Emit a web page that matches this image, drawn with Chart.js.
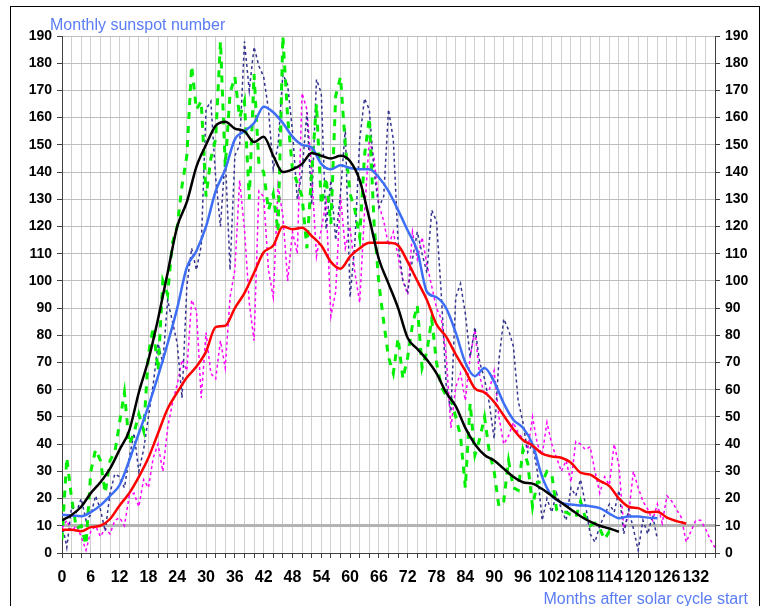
<!DOCTYPE html>
<html>
<head>
<meta charset="utf-8">
<script src="https://cdn.jsdelivr.net/npm/chart.js@4.4.1/dist/chart.umd.min.js"></script>
<style>
html, body { margin: 0; padding: 0; background: #fff; }
</style>
</head>
<body>
<canvas id="sunChart" width="770" height="606"></canvas>
<script>
// Smoothed curves, sampled every 2 months
const blackSmooth = [12, 14, 17, 22, 26, 31, 38, 45, 59, 71, 86, 103, 120, 129, 142, 150, 157, 158.5, 156, 155,
  151, 153, 146, 140, 141, 143, 147, 146, 145, 146, 144, 137, 123, 108, 99, 90, 79, 75, 71, 66,
  59, 54, 46, 40, 36, 34, 31, 28, 26, 25.5, 23.5, 21, 18.5, 16, 13.5, 11.5, 10, 9, 7.8];
const blueSmooth = [14, 13.8, 13.5, 15, 17.5, 21, 25, 34, 44, 54, 65, 77, 90, 105, 111, 120, 133, 141, 152, 155,
  158, 164, 162, 158, 153, 150, 149, 143, 141, 142.5, 141.5, 141, 141, 138, 133, 126, 118.5, 111, 96, 94,
  90, 81, 70, 65, 68, 63, 55, 49, 46, 40, 28, 21, 18.5, 17.8, 17.5, 17.2, 16.5, 14.5, 12.8, 13.4,
  13.4, 13, 12.8];
const redSmooth = [8.5, 8.5, 8, 9.5, 10, 12.5, 17.5, 22, 28, 35, 44, 53, 59, 64.5, 68.5, 74, 83, 83.5, 90, 95.5,
  103, 110.5, 113, 120, 119, 119.5, 116.5, 113, 107, 104.5, 109, 112, 114, 114, 114, 113, 107, 100, 93, 84,
  79.5, 73, 67, 60.5, 59, 55.5, 50.5, 45.5, 41.5, 39.5, 36.5, 35.5, 35, 33.2, 29.5, 28.8, 26.5, 24.6, 20, 17,
  16.5, 15, 15.2, 13, 11.7, 10.8];

// Monthly values, one per month from month 0
const greenMonthly = [5, 35, 20, 9, 10, 3, 30, 38, 34, 22,
  34, 37, 48, 59, 40, 44, 51, 45, 73, 83,
  67, 100, 95, 114, 120, 135, 146, 179, 163, 166,
  131, 145, 152, 188, 142, 169, 175, 160, 166, 130,
  176, 143, 140, 126, 132, 118, 190, 160, 141, 136,
  131, 112, 140, 165, 128, 138, 121, 168, 175, 150,
  132, 126, 116, 146, 160, 121, 99, 85, 72, 66,
  79, 64, 72, 84, 91, 68, 74, 86, 70, 61,
  58, 57, 50, 43, 24, 55, 36, 42, 50, 37,
  30, 17, 19, 34, 24, 23, 38, 33, 17, 26,
  26, 30, 29, 16, 15, 15, 14, 13, 19, 13,
  10, 11, 9, 5, 8, 8];
const navyMonthly = [11, 2, 17, 15, 20, 12, 14, 21, 16, 8,
  22, 29, 28, 24, 35, 44, 30, 38, 50, 62,
  77, 70, 93, 85, 77, 57, 98, 112, 104, 113,
  163, 166, 138, 120, 146, 104, 146, 150, 188, 170,
  186, 179, 175, 163, 141, 150, 176, 172, 155, 130,
  140, 162, 128, 174, 169, 119, 137, 115, 132, 156,
  94, 114, 152, 167, 163, 140, 127, 131, 163, 152,
  114, 100, 96, 108, 118, 110, 103, 126, 122, 95,
  62, 52, 94, 99, 88, 72, 83, 70, 64, 55,
  42, 71, 86, 82, 76, 56, 48, 37, 40, 30,
  12, 20, 15, 22, 16, 12, 24, 21, 27, 18,
  7, 4, 10, 14, 18, 15, 23, 7, 16, 9,
  1, 12, 7, 14, 5];
const magentaMonthly = [9, 12, 8, 10, 6, 1, 8, 10, 6, 9,
  7, 12, 13, 10, 21, 22, 17, 27, 24, 35,
  40, 30, 46, 55, 62, 71, 67, 93, 89, 57,
  81, 66, 64, 78, 68, 94, 104, 137, 119, 92,
  78, 133, 131, 104, 94, 135, 124, 100, 118, 110,
  169, 163, 140, 109, 119, 129, 87, 96, 131, 112,
  120, 103, 92, 125, 152, 145, 128, 122, 113, 118,
  109, 100, 95, 118, 108, 116, 106, 98, 90, 86,
  73, 46, 61, 66, 56, 72, 82, 65, 58, 60,
  67, 50, 40, 43, 48, 44, 42, 38, 50, 40,
  36, 48, 40, 35, 30, 34, 26, 41, 40, 38,
  39, 30, 22, 28, 25, 40, 32, 9, 14, 30,
  24, 19, 16, 12, 18, 11, 21, 19, 16, 13,
  4, 8, 12, 12, 9, 5, 2];

const yMax = 190;
const xMax = 136;

function everyTwo(arr) {
  return arr.map((v, i) => ({ x: i * 2, y: v }));
}
function monthly(arr) {
  return arr.map((v, i) => ({ x: i, y: v }));
}

const fontFamily = "'Liberation Sans', Arial, sans-serif";

// frame and the two blue captions
const decor = {
  id: 'decor',
  afterDraw(chart) {
    const c = chart.ctx;
    c.save();
    c.strokeStyle = '#000';
    c.lineWidth = 1;
    c.strokeRect(10.5, 6.5, 749, 700);
    c.fillStyle = '#5a7cf5';
    c.font = '16px ' + fontFamily;
    c.textBaseline = 'alphabetic';
    c.textAlign = 'left';
    c.fillText('Monthly sunspot number', 50, 29.5);
    c.textAlign = 'right';
    c.fillText('Months after solar cycle start', 748, 603.5);
    c.restore();
  }
};

new Chart(document.getElementById('sunChart'), {
  type: 'line',
  data: {
    datasets: [
      { data: everyTwo(blackSmooth), borderColor: '#000000', borderWidth: 2.5, cubicInterpolationMode: 'monotone' },
      { data: everyTwo(redSmooth), borderColor: '#ff0000', borderWidth: 2.5, cubicInterpolationMode: 'monotone' },
      { data: everyTwo(blueSmooth), borderColor: '#3d6ef5', borderWidth: 2.5, cubicInterpolationMode: 'monotone' },
      { data: monthly(greenMonthly), borderColor: '#00ee00', borderWidth: 3, borderDash: [7, 7] },
      { data: monthly(navyMonthly), borderColor: '#33338f', borderWidth: 1.5, borderDash: [3, 3] },
      { data: monthly(magentaMonthly), borderColor: '#ff00ff', borderWidth: 1.5, borderDash: [3, 3] }
    ]
  },
  options: {
    responsive: false,
    animation: false,
    events: [],
    layout: { padding: { left: 0, right: 0, top: 36, bottom: 0 } },
    elements: { point: { radius: 0 }, line: { fill: false } },
    plugins: { legend: { display: false }, tooltip: { enabled: false } },
    scales: {
      x: {
        type: 'linear',
        min: 0,
        max: xMax,
        afterFit(s) { s.height = 53; },
        border: { color: '#404040', width: 1 },
        grid: { color: '#cfcfcf', tickColor: '#404040', tickLength: 5 },
        ticks: {
          stepSize: 2,
          autoSkip: false,
          maxRotation: 0,
          padding: 10,
          color: '#000',
          font: { family: fontFamily, size: 16, weight: 'bold' },
          callback: v => (v % 6 === 0 && v <= 132 ? v : '')
        }
      },
      y: {
        position: 'left',
        min: 0,
        max: yMax,
        afterFit(s) { s.width = 62; },
        border: { color: '#404040', width: 1 },
        grid: {
          color: ctx => (ctx.tick && ctx.tick.value === 10 ? '#b4b4b4' : '#bdbdbd'),
          lineWidth: ctx => (ctx.tick && ctx.tick.value === 10 ? 3 : 1),
          tickColor: '#404040',
          tickWidth: 1,
          tickLength: 5
        },
        ticks: {
          stepSize: 10,
          padding: 5,
          color: '#000',
          font: { family: fontFamily, size: 14, weight: 'bold' }
        }
      },
      y2: {
        position: 'right',
        min: 0,
        max: yMax,
        afterFit(s) { s.width = 55; },
        border: { color: '#404040', width: 1 },
        grid: { drawOnChartArea: false, tickColor: '#404040', tickLength: 5 },
        ticks: {
          stepSize: 10,
          padding: 5,
          color: '#000',
          font: { family: fontFamily, size: 14, weight: 'bold' }
        }
      }
    }
  },
  plugins: [decor]
});
</script>
</body>
</html>
